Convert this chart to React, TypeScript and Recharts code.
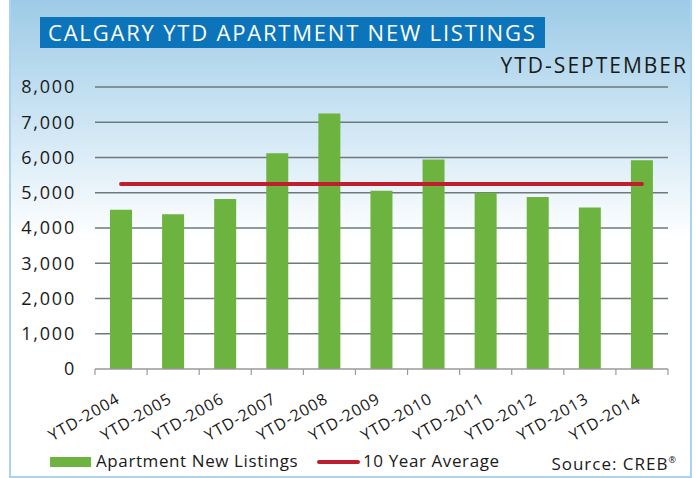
import React from "react";
import {
  ComposedChart,
  Bar,
  Line,
  XAxis,
  YAxis,
  CartesianGrid,
} from "recharts";

const YEARS = [
  "YTD-2004",
  "YTD-2005",
  "YTD-2006",
  "YTD-2007",
  "YTD-2008",
  "YTD-2009",
  "YTD-2010",
  "YTD-2011",
  "YTD-2012",
  "YTD-2013",
  "YTD-2014",
];
const NEW_LISTINGS = [4520, 4390, 4820, 6120, 7245, 5060, 5940, 5000, 4880, 4585, 5920];
const TEN_YEAR_AVG = 5250;
const Y_TICKS = [0, 1000, 2000, 3000, 4000, 5000, 6000, 7000, 8000];

const GREEN = "#6db33f";
const RED = "#be1e2d";
const FONT = "'Open Sans', sans-serif";

const data = YEARS.map((year, i) => ({
  year,
  listings: NEW_LISTINGS[i],
  avg: TEN_YEAR_AVG,
}));

// tick lines sit on the category boundaries, labels slanted under the centre
function YearTick(props: any) {
  const { x, y, payload, index } = props;
  const half = payload?.offset ?? 26;
  return (
    <g>
      <line x1={x - half} y1={y} x2={x - half} y2={y + 6} stroke="#9a9a9a" strokeWidth={1.2} />
      {index === YEARS.length - 1 && (
        <line x1={x + half} y1={y} x2={x + half} y2={y + 6} stroke="#9a9a9a" strokeWidth={1.2} />
      )}
      <text
        x={0}
        y={0}
        transform={`translate(${x},${y + 33}) rotate(-30)`}
        textAnchor="end"
        fill="#1a1a1a"
        fontSize={16}
        letterSpacing={1}
        fontFamily={FONT}
      >
        {payload.value}
      </text>
    </g>
  );
}

export default function App() {
  return (
    <div
      style={{
        position: "absolute",
        left: 0,
        top: 0,
        width: 696,
        height: 478,
        background: "#ffffff",
        fontFamily: FONT,
        overflow: "hidden",
      }}
    >
      {/* frame with sky gradient */}
      <div
        style={{
          position: "absolute",
          left: 9,
          top: -2,
          width: 679,
          height: 476,
          border: "2px solid #a9d3ee",
          background: "linear-gradient(to bottom, #9dcbe7 0%, #d6eaf6 30%, #ffffff 50%, #ffffff 100%)",
        }}
      />

      <div
        style={{
          position: "absolute",
          left: 40,
          top: 17,
          width: 505,
          height: 31,
          background: "#0b74ba",
          color: "#ffffff",
          fontSize: 22,
          fontWeight: 500,
          letterSpacing: 1.8,
          lineHeight: "31px",
          paddingLeft: 8,
          boxSizing: "border-box",
          whiteSpace: "nowrap",
        }}
      >
        CALGARY YTD APARTMENT NEW LISTINGS
      </div>

      <div
        style={{
          position: "absolute",
          right: 8,
          top: 51,
          fontSize: 21,
          letterSpacing: 2,
          color: "#1a1a1a",
          whiteSpace: "nowrap",
        }}
      >
        YTD-SEPTEMBER
      </div>

      <div style={{ position: "absolute", left: 0, top: 0 }}>
        <ComposedChart
          width={696}
          height={478}
          data={data}
          margin={{ top: 87, right: 28, bottom: 0, left: 0 }}
        >
          <CartesianGrid
            vertical={false}
            stroke="#6c7a7a"
            strokeWidth={1.4}
            horizontalValues={Y_TICKS.slice(1)}
          />
          <XAxis
            dataKey="year"
            interval={0}
            height={109}
            axisLine={{ stroke: "#9a9a9a", strokeWidth: 1.4 }}
            tickLine={false}
            tickSize={0}
            tickMargin={0}
            tick={<YearTick />}
          />
          <YAxis
            width={95}
            domain={[0, 8000]}
            ticks={Y_TICKS}
            interval={0}
            axisLine={false}
            tickLine={false}
            tickSize={0}
            tickMargin={19}
            tickFormatter={(v: number) => v.toLocaleString("en-US")}
            tick={{ fill: "#1a1a1a", fontSize: 18, letterSpacing: 1.8, fontFamily: FONT }}
          />
          <Bar dataKey="listings" fill={GREEN} barSize={22} isAnimationActive={false} />
          <Line
            dataKey="avg"
            stroke={RED}
            strokeWidth={4}
            strokeLinecap="round"
            dot={false}
            activeDot={false}
            isAnimationActive={false}
          />
        </ComposedChart>
      </div>

      {/* legend */}
      <div
        style={{
          position: "absolute",
          left: 50,
          top: 457,
          width: 41,
          height: 10,
          background: GREEN,
        }}
      />
      <div
        style={{
          position: "absolute",
          left: 96,
          top: 449,
          fontSize: 17,
          letterSpacing: 0.6,
          color: "#1a1a1a",
          whiteSpace: "nowrap",
        }}
      >
        Apartment New Listings
      </div>
      <div
        style={{
          position: "absolute",
          left: 317,
          top: 460,
          width: 43,
          height: 4,
          borderRadius: 2,
          background: RED,
        }}
      />
      <div
        style={{
          position: "absolute",
          left: 363,
          top: 449,
          fontSize: 17,
          letterSpacing: 0.6,
          color: "#1a1a1a",
          whiteSpace: "nowrap",
        }}
      >
        10 Year Average
      </div>
      <div
        style={{
          position: "absolute",
          right: 19,
          top: 452,
          fontSize: 17,
          letterSpacing: 1,
          color: "#1a1a1a",
          whiteSpace: "nowrap",
        }}
      >
        Source: CREB<sup style={{ fontSize: 9 }}>®</sup>
      </div>
    </div>
  );
}
